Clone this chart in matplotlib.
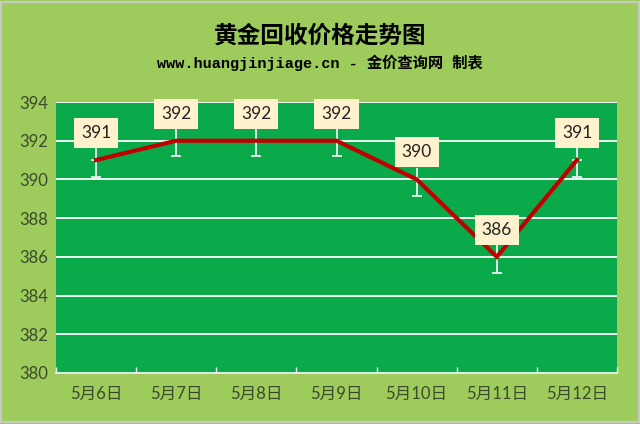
import matplotlib
matplotlib.use("Agg")
import matplotlib.pyplot as plt
from matplotlib.patches import Rectangle

dates = ["5月6日", "5月7日", "5月8日", "5月9日", "5月10日", "5月11日", "5月12日"]
prices = [391, 392, 392, 392, 390, 386, 391]
err_minus = [0.85, 0.8, 0.8, 0.8, 0.85, 0.85, 0.85]

title = "黄金回收价格走势图"
subtitle = "www.huangjinjiage.cn - 金价查询网 制表"

fig_bg = "#9DCC5C"
plot_bg = "#0AAA4A"
line_color = "#C00000"
label_fill = "#FFF2CC"
tick_color = "#3A4A2A"
num_font = ["Lato", "Noto Sans CJK SC"]

fig = plt.figure(figsize=(6.4, 4.24), dpi=100, facecolor=fig_bg)
ax = fig.add_axes([0.0875, 0.1203, 0.8766, 0.6391])
ax.set_facecolor(plot_bg)

x = list(range(len(dates)))

# grid lines
for v in range(382, 395, 2):
    ax.axhline(v, color="white", lw=1.3, zorder=1)

# error bars: minus side with cap, plus side runs up under the label box
ax.errorbar(x, prices, yerr=[err_minus, [0] * len(prices)], fmt="none",
            ecolor="#E8F2F2", elinewidth=1.3, capsize=3.5, capthick=1.3, zorder=2)
ax.vlines(x, prices, [p + 0.6 for p in prices], color="#E8F2F2", lw=1.3, zorder=2)

ax.plot(x, prices, color=line_color, lw=3, solid_joinstyle="miter", zorder=3)

for xi, p in zip(x, prices):
    ax.annotate(str(p), (xi, p), xytext=(0, 19.5), textcoords="offset points",
                ha="center", va="center", fontsize=12.5, color="#222222",
                family=num_font,
                bbox=dict(boxstyle="square,pad=0.4", fc=label_fill, ec="none"),
                zorder=4)

ax.set_xlim(-0.5, len(dates) - 0.5)
ax.set_ylim(380, 394)
ax.set_yticks(range(380, 395, 2))
ax.set_xticks(x)
ax.set_xticklabels(dates, family=num_font, fontsize=12, color=tick_color)
ax.set_xticks([i - 0.5 for i in range(len(dates) + 1)], minor=True)
ax.tick_params(axis="x", which="major", length=0, pad=9)
ax.tick_params(axis="x", which="minor", length=4, color="#F0F0F0", width=1, direction="in")
ax.tick_params(axis="y", length=0, pad=6, labelsize=12, labelcolor=tick_color)
for lbl in ax.get_yticklabels():
    lbl.set_family(num_font)

for side in ["top", "right", "left"]:
    ax.spines[side].set_visible(False)
ax.spines["bottom"].set_color("#F0F0F0")
ax.spines["bottom"].set_linewidth(1.3)

fig.text(0.5, 0.915, title, ha="center", va="center", fontsize=17, fontweight="bold",
         family=["Noto Sans CJK SC"], color="black")
fig.text(0.5, 0.852, subtitle, ha="center", va="center", fontsize=11, fontweight="bold",
         family=["Liberation Mono", "Noto Sans CJK SC"], color="black")

fig.patches.append(Rectangle((0.002, 0.004), 0.996, 0.992, transform=fig.transFigure,
                             fill=False, ec="#C8C8C8", lw=1.5))

fig.savefig("out.png", dpi=100, facecolor=fig_bg)
